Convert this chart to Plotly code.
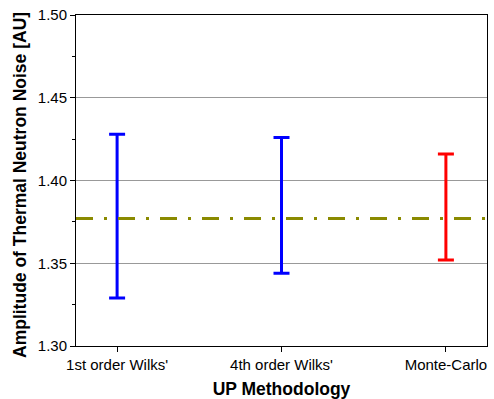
import plotly.graph_objects as go

categories = ["1st order Wilks'", "4th order Wilks'", "Monte-Carlo"]
upper = [1.428, 1.426, 1.416]
lower = [1.329, 1.344, 1.352]
colors = ["#0000ff", "#0000ff", "#ff0000"]
reference_value = 1.377

fig = go.Figure()
for i, c in enumerate(categories):
    mid = (upper[i] + lower[i]) / 2
    fig.add_trace(go.Scatter(
        x=[i], y=[mid], mode="markers",
        marker=dict(size=1, color="rgba(0,0,0,0)"),
        error_y=dict(type="data", symmetric=False,
                     array=[upper[i] - mid], arrayminus=[mid - lower[i]],
                     color=colors[i], thickness=3, width=8),
        showlegend=False, hoverinfo="skip"))

# invisible trace to carry the minor-tick axis
fig.add_trace(go.Scatter(x=[0], y=[reference_value], yaxis="y2", mode="markers",
                         marker=dict(size=1, color="rgba(0,0,0,0)"),
                         showlegend=False, hoverinfo="skip"))

fig.add_shape(type="line", xref="paper", x0=0, x1=1, yref="y",
              y0=reference_value, y1=reference_value,
              line=dict(color="#8a8a00", width=3, dash="17px,11px,3px,11px"))

fig.add_annotation(text="<b>Amplitude of Thermal Neutron Noise [AU]</b>",
                   xref="paper", yref="paper", x=0, y=0.5,
                   xshift=-56, yshift=-4.5, xanchor="center", yanchor="middle",
                   textangle=-90, showarrow=False,
                   font=dict(size=17.5, family="Liberation Sans, Arial", color="black"))

fig.update_layout(
    width=494, height=399,
    margin=dict(l=76, r=7, t=15, b=53),
    paper_bgcolor="white", plot_bgcolor="white",
    font=dict(family="Liberation Sans, Arial", size=15, color="black"),
    xaxis=dict(range=[-0.25, 2.25], tickvals=[0, 1, 2], ticktext=categories,
               tickfont=dict(size=15), automargin=False,
               ticks="outside", ticklen=5, tickcolor="black",
               showline=True, linecolor="black", linewidth=1, mirror=True,
               showgrid=False, zeroline=False,
               title=dict(text="<b>UP Methodology</b>", font=dict(size=17.5), standoff=10)),
    yaxis=dict(range=[1.30, 1.50], tickmode="linear", tick0=1.30, dtick=0.05,
               tickformat=".2f", tickfont=dict(size=15), automargin=False,
               ticks="outside", ticklen=5, tickcolor="black",
               showline=True, linecolor="black", linewidth=1, mirror=True,
               showgrid=True, gridcolor="#999999", gridwidth=1, zeroline=False),
    yaxis2=dict(range=[1.30, 1.50], overlaying="y", side="left", anchor="x",
                tickmode="linear", tick0=1.30, dtick=0.025, automargin=False,
                ticks="outside", ticklen=3, tickcolor="black",
                showticklabels=False, showgrid=False, zeroline=False, showline=False),
)
fig.write_html("out.html")
